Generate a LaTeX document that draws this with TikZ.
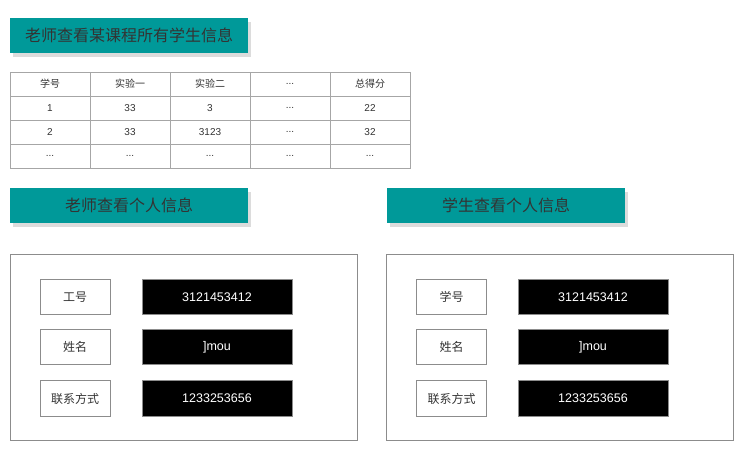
\documentclass[tikz,border=0pt]{standalone}
\usepackage{fontspec}
\setmainfont{Liberation Sans}
\newfontfamily\cjk{Noto Sans CJK SC}
\usetikzlibrary{shadows}
\definecolor{teal1}{HTML}{009999}
\definecolor{txt}{HTML}{333333}
\definecolor{grid}{HTML}{A6A6A6}
\definecolor{bord}{HTML}{8C8C8C}
\newcommand\mydots{...}
\tikzset{
  titlebox/.style={draw=none, fill=teal1, text=txt, minimum width=238pt, minimum height=35pt, inner sep=0pt,
    font=\cjk\fontsize{16}{18}\selectfont,
    drop shadow={shadow xshift=3pt, shadow yshift=-4pt, opacity=0.28, fill=gray}},
  cell/.style={draw=grid, line width=0.8pt, minimum width=80pt, minimum height=24pt, inner sep=0pt, text=txt,
    font=\fontsize{10}{12}\selectfont},
  panel/.style={draw=bord, line width=0.8pt, minimum width=347pt, minimum height=186pt, inner sep=0pt},
  lbl/.style={draw=bord, line width=0.8pt, minimum width=70pt, minimum height=35.5pt, inner sep=0pt, text=txt,
    font=\cjk\fontsize{12}{14}\selectfont},
  val/.style={draw=bord, line width=0.8pt, fill=black, text=white, minimum width=150pt, minimum height=35.5pt, inner sep=0pt,
    font=\fontsize{12.5}{14}\selectfont}
}
\begin{document}
\begin{tikzpicture}[x=1pt,y=-1pt]
\useasboundingbox (0,0) rectangle (749,469);
% titles
\node[titlebox] (t1) at (129,35.5) {老师查看某课程所有学生信息};
\node[titlebox] (t2) at (129,205.5) {老师查看个人信息};
\node[titlebox] (t3) at (506,205.5) {学生查看个人信息};
% table
\foreach \c/\a/\b/\d [count=\i] in {{\cjk 学号}/1/2/\mydots, {\cjk 实验一}/33/33/\mydots, {\cjk 实验二}/3/3123/\mydots, \mydots/\mydots/\mydots/\mydots, {\cjk 总得分}/22/32/\mydots}{
  \node[cell] (h\i) at ({10+80*(\i-1)+40},84) {\c};
  \node[cell] (r1c\i) at ({10+80*(\i-1)+40},108) {\a};
  \node[cell] (r2c\i) at ({10+80*(\i-1)+40},132) {\b};
  \node[cell] (r3c\i) at ({10+80*(\i-1)+40},156) {\d};
}
% panels
\node[panel] (p1) at (183.5,347) {};
\node[panel] (p2) at (560,347) {};
% left panel
\node[lbl] (l1) at (75,297) {工号};
\node[lbl] (l2) at (75,347) {姓名};
\node[lbl] (l3) at (75,398.5) {联系方式};
\node[val] (v1) at (217,297) {3121453412};
\node[val] (v2) at (217,347) {]mou};
\node[val] (v3) at (217,398.5) {1233253656};
% right panel
\node[lbl] (m1) at (451.5,297) {学号};
\node[lbl] (m2) at (451.5,347) {姓名};
\node[lbl] (m3) at (451.5,398.5) {联系方式};
\node[val] (w1) at (593,297) {3121453412};
\node[val] (w2) at (593,347) {]mou};
\node[val] (w3) at (593,398.5) {1233253656};
\end{tikzpicture}
\end{document}
